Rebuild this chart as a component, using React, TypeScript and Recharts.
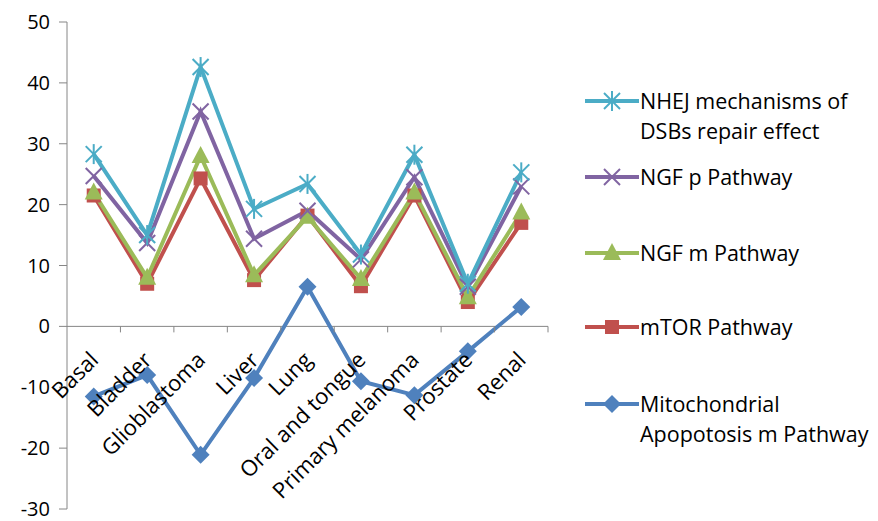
import { LineChart, Line, XAxis, YAxis, ReferenceLine } from 'recharts';

const categories = ['Basal', 'Bladder', 'Glioblastoma', 'Liver', 'Lung', 'Oral and tongue', 'Primary melanoma', 'Prostate', 'Renal'];
const nhej = [28.3, 15, 42.6, 19.3, 23.4, 11.8, 28.2, 7, 25.3];
const ngfP = [24.7, 13.7, 35.3, 14.4, 19, 11, 24.5, 6.5, 23];
const ngfM = [22, 8, 28, 8.4, 18, 7.8, 22, 4.8, 18.7];
const mtor = [21.5, 7, 24.3, 7.6, 18.2, 6.6, 21.5, 4, 17];
const mito = [-11.5, -8, -21.1, -8.5, 6.5, -9, -11.3, -4.1, 3.2];
const yTicks = [-30, -20, -10, 0, 10, 20, 30, 40, 50];

const Y_MIN = -30;
const Y_MAX = 50;
const W = 878;
const H = 521;
const X_AXIS_H = 12;
const M = { top: 22, right: 330, bottom: 0, left: 0 };
const Y_AXIS_W = 67;
const PLOT_W = W - M.left - M.right - Y_AXIS_W;
const PLOT_H = H - M.top - M.bottom - X_AXIS_H;
const BAND = PLOT_W / categories.length;
const ZERO_UP = (PLOT_H * (0 - Y_MIN)) / (Y_MAX - Y_MIN);

const FONT = '"Open Sans", sans-serif';
const AXIS = '#868686';

const C = {
  nhej: '#4BACC6',
  ngfP: '#8064A2',
  ngfM: '#9BBB59',
  mtor: '#C0504D',
  mito: '#4F81BD',
};

const data = categories.map((name, i) => ({
  name,
  nhej: nhej[i],
  ngfP: ngfP[i],
  ngfM: ngfM[i],
  mtor: mtor[i],
  mito: mito[i],
}));

type Shape = 'star' | 'x' | 'tri' | 'sq' | 'dia';

function Marker({ cx, cy, shape, color }: { cx: number; cy: number; shape: Shape; color: string }) {
  if (shape === 'star') {
    return (
      <g stroke={color} strokeWidth={2}>
        <line x1={cx} y1={cy - 10} x2={cx} y2={cy + 10} />
        <line x1={cx - 8} y1={cy - 8} x2={cx + 8} y2={cy + 8} />
        <line x1={cx - 8} y1={cy + 8} x2={cx + 8} y2={cy - 8} />
      </g>
    );
  }
  if (shape === 'x') {
    return (
      <g stroke={color} strokeWidth={2}>
        <line x1={cx - 8} y1={cy - 8} x2={cx + 8} y2={cy + 8} />
        <line x1={cx - 8} y1={cy + 8} x2={cx + 8} y2={cy - 8} />
      </g>
    );
  }
  if (shape === 'tri') {
    return <polygon points={`${cx},${cy - 10} ${cx - 9},${cy + 7} ${cx + 9},${cy + 7}`} fill={color} />;
  }
  if (shape === 'sq') {
    return <rect x={cx - 7} y={cy - 7} width={14} height={14} fill={color} />;
  }
  return <polygon points={`${cx},${cy - 9} ${cx + 9},${cy} ${cx},${cy + 9} ${cx - 9},${cy}`} fill={color} />;
}

const dotFor = (shape: Shape, color: string) => (p: any) => (
  <Marker key={`${shape}-${p.index}`} cx={p.cx} cy={p.cy} shape={shape} color={color} />
);

// category labels sit under the zero line, not at the plot bottom
const renderCatTick = (props: any) => {
  const { x, y, payload } = props;
  const zy = y - ZERO_UP;
  const ax = x + 6;
  const ay = zy + 35;
  return (
    <g key={`cat-${payload.value}`}>
      <line x1={x + BAND / 2} y1={zy} x2={x + BAND / 2} y2={zy + 6} stroke={AXIS} />
      <text
        x={ax}
        y={ay}
        transform={`rotate(-45 ${ax} ${ay})`}
        textAnchor="end"
        fontSize={22}
        fontFamily={FONT}
        fill="#000"
      >
        {payload.value}
      </text>
    </g>
  );
};

const legendItems: { label: string[]; color: string; shape: Shape; top: number }[] = [
  { label: ['NHEJ mechanisms of', 'DSBs repair effect'], color: C.nhej, shape: 'star', top: 0 },
  { label: ['NGF p Pathway'], color: C.ngfP, shape: 'x', top: 76 },
  { label: ['NGF m Pathway'], color: C.ngfM, shape: 'tri', top: 152 },
  { label: ['mTOR Pathway'], color: C.mtor, shape: 'sq', top: 226 },
  { label: ['Mitochondrial', 'Apopotosis m Pathway'], color: C.mito, shape: 'dia', top: 303 },
];

function LegendBox() {
  return (
    <div style={{ position: 'absolute', left: 585, top: 86, width: 293, height: 360, fontFamily: FONT, fontSize: 21.5, color: '#000' }}>
      {legendItems.map((it) => (
        <div key={it.label[0]} style={{ position: 'absolute', left: 0, top: it.top }}>
          <svg width={56} height={30} style={{ position: 'absolute', left: 0, top: 0 }}>
            <line x1={0} y1={15} x2={54} y2={15} stroke={it.color} strokeWidth={4} />
            <Marker cx={27} cy={15} shape={it.shape} color={it.color} />
          </svg>
          <div style={{ position: 'absolute', left: 55, top: 0, lineHeight: '30px', whiteSpace: 'nowrap' }}>
            {it.label.map((l) => (
              <div key={l}>{l}</div>
            ))}
          </div>
        </div>
      ))}
    </div>
  );
}

export default function App() {
  return (
    <div style={{ position: 'absolute', left: 0, top: 0, width: W, height: H, background: '#fff' }}>
      <LineChart width={W} height={H} data={data} margin={M}>
        <XAxis
          dataKey="name"
          height={X_AXIS_H}
          axisLine={false}
          tickLine={false}
          tickSize={0}
          tickMargin={0}
          interval={0}
          padding={{ left: BAND / 2, right: BAND / 2 }}
          tick={renderCatTick}
        />
        <YAxis
          width={Y_AXIS_W}
          domain={[Y_MIN, Y_MAX]}
          ticks={yTicks}
          interval={0}
          stroke={AXIS}
          tickSize={8}
          tickMargin={9}
          tick={{ fontSize: 20, fill: '#000', fontFamily: FONT }}
        />
        <ReferenceLine y={0} stroke={AXIS} strokeWidth={1} />
        <Line dataKey="mito" stroke={C.mito} strokeWidth={4} dot={dotFor('dia', C.mito)} isAnimationActive={false} />
        <Line dataKey="mtor" stroke={C.mtor} strokeWidth={4} dot={dotFor('sq', C.mtor)} isAnimationActive={false} />
        <Line dataKey="ngfM" stroke={C.ngfM} strokeWidth={4} dot={dotFor('tri', C.ngfM)} isAnimationActive={false} />
        <Line dataKey="ngfP" stroke={C.ngfP} strokeWidth={4} dot={dotFor('x', C.ngfP)} isAnimationActive={false} />
        <Line dataKey="nhej" stroke={C.nhej} strokeWidth={4} dot={dotFor('star', C.nhej)} isAnimationActive={false} />
      </LineChart>
      <LegendBox />
    </div>
  );
}
